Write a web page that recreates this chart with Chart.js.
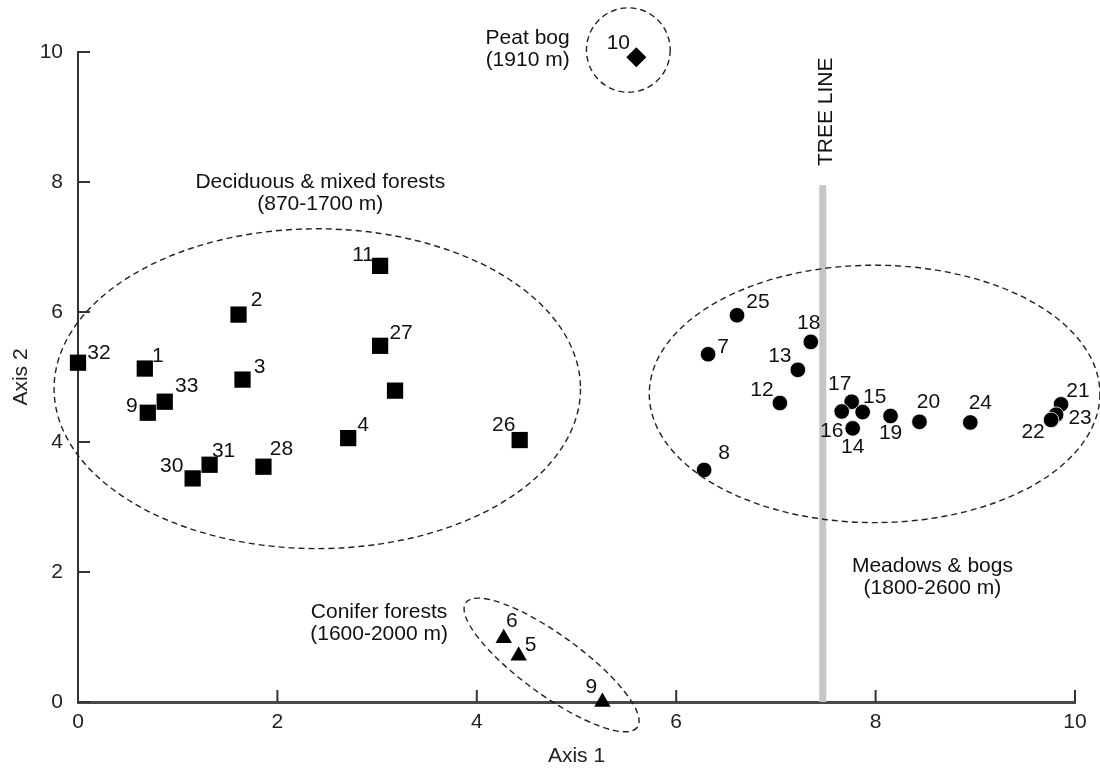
<!DOCTYPE html>
<html>
<head>
<meta charset="utf-8">
<script src="https://cdn.jsdelivr.net/npm/chart.js@4.4.0/dist/chart.umd.min.js"></script>
<style>
  html, body { margin: 0; padding: 0; background: #fff; }
</style>
</head>
<body>
<canvas id="myChart" width="1100" height="769"></canvas>
<script>
// deciduous & mixed forests (squares)
const decX = [0.00, 0.67, 1.61, 1.65, 0.87, 0.70, 3.03, 3.03, 3.18, 2.71, 4.43, 1.32, 1.15, 1.86]
const decY = [5.22, 5.13, 5.96, 4.96, 4.62, 4.45, 6.71, 5.48, 4.79, 4.06, 4.03, 3.65, 3.44, 3.62]
const decLabels = ['32', '1', '2', '3', '33', '9', '11', '27', '', '4', '26', '31', '30', '28']

// meadows & bogs (circles)
const meaX = [6.61, 7.35, 6.32, 7.22, 7.04, 7.76, 7.66, 7.87, 7.77, 8.15, 8.44, 8.95, 9.86, 9.81, 9.76, 6.28]
const meaY = [5.95, 5.54, 5.35, 5.11, 4.60, 4.62, 4.47, 4.46, 4.21, 4.40, 4.31, 4.30, 4.58, 4.42, 4.34, 3.57]
const meaLabels = ['25', '18', '7', '13', '12', '17', '16', '15', '14', '19', '20', '24', '21', '23', '22', '8']

// conifer forests (triangles)
const conX = [4.27, 4.42, 5.26]
const conY = [0.98, 0.71, 0.00]
const conLabels = ['6', '5', '9']

// peat bog (diamond)
const peatX = [5.60]
const peatY = [9.92]
const peatLabels = ['10']

// tree line
const treeLineX = 7.47
const treeLineTop = 7.95

const xTicks = [0, 2, 4, 6, 8, 10]
const yTicks = [0, 2, 4, 6, 8, 10]

// label offsets in px (dx, dy) - placement only
const decOffsets = [[21,-9],[13,-12],[18,-14],[17,-12],[22,-15],[-16,-7],[-17,-11],[21,-13],[0,0],[15,-13],[-16,-15],[14,-14],[-21,-12],[18,-17]]
const meaOffsets = [[21,-13],[-2,-19],[15,-7],[-18,-14],[-18,-13],[-12,-17],[-10,20],[12,-15],[0,19],[0,17],[9,-20],[10,-19],[17,-13],[24,4],[-18,12],[20,-17]]
const conOffsets = [[8,-17],[12,-11],[-11,-15]]
const peatOffsets = [[-18,-14]]

const FONT = 'Liberation Sans, Arial, Helvetica, sans-serif'
const FSIZE = 21

function toPoints(xs, ys) {
    return xs.map((x, i) => ({ x: x, y: ys[i] }))
}

// dashed group ellipses, data centre; radii in data units unless px given
const groupEllipses = [
    { cx: 2.40, cy: 4.82, rx: 2.64, ry: 2.46 },
    { cx: 7.99, cy: 4.74, rx: 2.26, ry: 1.98 },
    { cx: 5.52, cy: 10.03, rx: 0.42, ry: 0.65 },
    { cx: 4.75, cy: 0.57, pxA: 106, pxB: 30, angle: 36 }
]

const groupNotes = [
    { x: 4.51, y: 10.05, lines: ['Peat bog', '(1910 m)'] },
    { x: 2.43, y: 7.82, lines: ['Deciduous & mixed forests', '(870-1700 m)'] },
    { x: 3.02, y: 1.21, lines: ['Conifer forests', '(1600-2000 m)'] },
    { x: 8.57, y: 1.92, lines: ['Meadows & bogs', '(1800-2600 m)'] }
]

const extras = {
    id: 'extras',
    afterDatasetsDraw(chart) {
        const ctx = chart.ctx
        const xs = chart.scales.x
        const ys = chart.scales.y
        const ppx = xs.getPixelForValue(1) - xs.getPixelForValue(0)
        const ppy = ys.getPixelForValue(0) - ys.getPixelForValue(1)

        // inward ticks
        ctx.save()
        ctx.strokeStyle = '#333'
        ctx.lineWidth = 2
        xTicks.forEach(v => {
            const px = xs.getPixelForValue(v)
            ctx.beginPath()
            ctx.moveTo(px, ys.bottom)
            ctx.lineTo(px, ys.bottom - 12)
            ctx.stroke()
        })
        yTicks.forEach(v => {
            const py = ys.getPixelForValue(v)
            ctx.beginPath()
            ctx.moveTo(xs.left, py)
            ctx.lineTo(xs.left + 12, py)
            ctx.stroke()
        })

        // ellipses
        ctx.strokeStyle = '#222'
        ctx.lineWidth = 1.4
        ctx.setLineDash([6, 4])
        groupEllipses.forEach(e => {
            const cx = xs.getPixelForValue(e.cx)
            const cy = ys.getPixelForValue(e.cy)
            let a, b, rot = 0
            if (e.pxA) {
                a = e.pxA; b = e.pxB; rot = e.angle * Math.PI / 180
            } else {
                a = e.rx * ppx; b = e.ry * ppy
            }
            ctx.beginPath()
            ctx.ellipse(cx, cy, a, b, rot, 0, Math.PI * 2)
            ctx.stroke()
        })
        ctx.setLineDash([])

        // point labels
        ctx.fillStyle = '#111'
        ctx.font = FSIZE + 'px ' + FONT
        ctx.textAlign = 'center'
        ctx.textBaseline = 'middle'
        chart.data.datasets.forEach((ds, di) => {
            if (!ds.pointText) return
            const meta = chart.getDatasetMeta(di)
            meta.data.forEach((el, i) => {
                const t = ds.pointText[i]
                if (!t) return
                const off = ds.textOffsets[i]
                ctx.fillText(t, el.x + off[0], el.y + off[1])
            })
        })

        // group notes
        groupNotes.forEach(n => {
            const px = xs.getPixelForValue(n.x)
            const py = ys.getPixelForValue(n.y)
            const lh = 22
            const start = py - (n.lines.length - 1) * lh / 2
            n.lines.forEach((l, i) => ctx.fillText(l, px, start + i * lh))
        })

        // tree line text
        ctx.save()
        ctx.translate(xs.getPixelForValue(7.50), ys.getPixelForValue(9.08))
        ctx.rotate(-Math.PI / 2)
        ctx.fillText('TREE LINE', 0, 0)
        ctx.restore()

        ctx.restore()
    }
}

const ctx = document.getElementById('myChart').getContext('2d')

const chart = new Chart(ctx, {
    type: 'scatter',
    data: {
        datasets: [
            {
                type: 'line',
                label: 'Tree line',
                data: [{ x: treeLineX, y: 0 }, { x: treeLineX, y: treeLineTop }],
                borderColor: '#c6c6c6',
                borderWidth: 7,
                pointRadius: 0,
                borderCapStyle: 'butt',
                fill: false
            },
            {
                label: 'Deciduous & mixed forests',
                data: toPoints(decX, decY),
                pointStyle: 'rect',
                pointRadius: 11.5,
                backgroundColor: '#000',
                borderColor: '#000',
                borderWidth: 0,
                pointText: decLabels,
                textOffsets: decOffsets,
                clip: false
            },
            {
                label: 'Meadows & bogs',
                data: toPoints(meaX, meaY),
                pointStyle: 'circle',
                pointRadius: 7.8,
                backgroundColor: '#000',
                borderColor: '#fff',
                borderWidth: 0.8,
                pointText: meaLabels,
                textOffsets: meaOffsets,
                clip: false
            },
            {
                label: 'Conifer forests',
                data: toPoints(conX, conY),
                pointStyle: 'triangle',
                pointRadius: 9.5,
                backgroundColor: '#000',
                borderColor: '#000',
                borderWidth: 0,
                pointText: conLabels,
                textOffsets: conOffsets,
                clip: false
            },
            {
                label: 'Peat bog',
                data: toPoints(peatX, peatY),
                pointStyle: 'rectRot',
                pointRadius: 10,
                backgroundColor: '#000',
                borderColor: '#000',
                borderWidth: 0,
                pointText: peatLabels,
                textOffsets: peatOffsets,
                clip: false
            }
        ]
    },
    options: {
        responsive: false,
        animation: false,
        devicePixelRatio: 1,
        layout: { padding: { left: 0, top: 52, right: 25, bottom: 0 } },
        plugins: {
            legend: { display: false },
            tooltip: { enabled: false }
        },
        scales: {
            x: {
                type: 'linear',
                min: 0,
                max: 10,
                afterBuildTicks: s => { s.ticks = xTicks.map(v => ({ value: v })) },
                afterFit: s => { s.height = 67 },
                grid: { display: false },
                border: { display: true, color: '#4a4a4a', width: 3 },
                ticks: { color: '#222', font: { family: FONT, size: FSIZE }, padding: 0, maxRotation: 0 },
                title: { display: true, text: 'Axis 1', color: '#222', font: { family: FONT, size: FSIZE }, padding: { top: 0, bottom: 0 } }
            },
            y: {
                type: 'linear',
                min: 0,
                max: 10,
                afterBuildTicks: s => { s.ticks = yTicks.map(v => ({ value: v })) },
                afterFit: s => { s.width = 78 },
                grid: { display: false },
                border: { display: true, color: '#333', width: 2 },
                ticks: { color: '#222', font: { family: FONT, size: FSIZE }, padding: 7 },
                title: { display: true, text: 'Axis 2', color: '#222', font: { family: FONT, size: FSIZE }, padding: { top: 9, bottom: 0 } }
            }
        }
    },
    plugins: [extras]
})
</script>
</body>
</html>
